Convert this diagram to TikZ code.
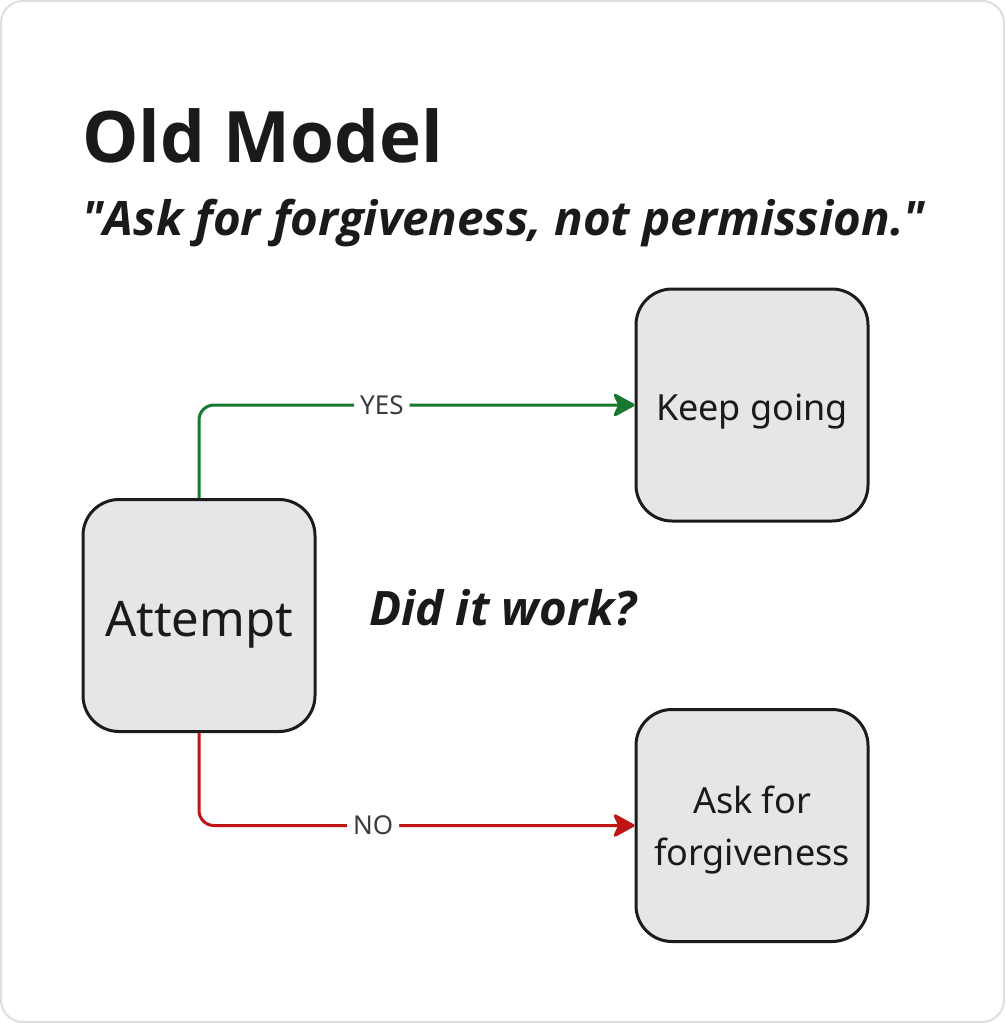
\documentclass[tikz,border=0pt]{standalone}
\usepackage{fontspec}
\setmainfont{Noto Sans}
\newfontfamily\headfont{Open Sans}
\usetikzlibrary{arrows.meta, positioning}
\definecolor{boxfill}{HTML}{E6E6E6}
\definecolor{boxline}{HTML}{1C1C1C}
\definecolor{inktext}{HTML}{1A1A1A}
\definecolor{yesgreen}{HTML}{17792F}
\definecolor{nored}{HTML}{BF1515}
\definecolor{cardline}{HTML}{DEDEE0}

\begin{document}
\begin{tikzpicture}[
    x=1pt, y=-1pt,
    stepbox/.style={draw=boxline, fill=boxfill, line width=3pt, rounded corners=36pt, minimum width=232pt, minimum height=232pt, align=center, text=inktext, font=\fontsize{36}{52}\selectfont, execute at begin node={\rule{0pt}{1.08em}}},
    heading/.style={anchor=base west, inner sep=0pt, text=inktext},
    flow/.style={line width=3pt, rounded corners=15pt, -{Stealth[length=24pt, width=26pt, inset=6pt, round]}},
    edgelabel/.style={fill=white, inner xsep=6pt, text=inktext!85, font=\fontsize{26}{28}\selectfont}
]

% Card
\draw[draw=cardline, fill=white, line width=2pt, rounded corners=22pt] (1,1) rectangle (1004,1022);

% Headings
\node[heading, font=\headfont\fontsize{71}{80}\selectfont\bfseries] (title) at (82,162) {Old Model};
\node[heading, font=\headfont\fontsize{47.5}{54}\selectfont\bfseries\itshape] (motto) at (82,235) {\textquotedbl Ask for forgiveness, not permission.\textquotedbl};

% Steps
\node[stepbox, font=\fontsize{49}{56}\selectfont] (attempt) at (199,615.5) {Attempt};
\node[stepbox] (keep) at (752,405) {Keep going};
\node[stepbox, text depth=-3pt] (forgive) at (752,825.5) {Ask for\\forgiveness};

% Question
\node[heading, font=\headfont\fontsize{47.5}{54}\selectfont\bfseries\itshape] (question) at (369,625) {Did it work?};

% Outcomes
\draw[flow, yesgreen] (attempt.north) |- node[edgelabel, pos=0.71] {YES} (keep.west);
\draw[flow, nored] (attempt.south) |- node[edgelabel, pos=0.70] {NO} (forgive.west);

\end{tikzpicture}
\end{document}
